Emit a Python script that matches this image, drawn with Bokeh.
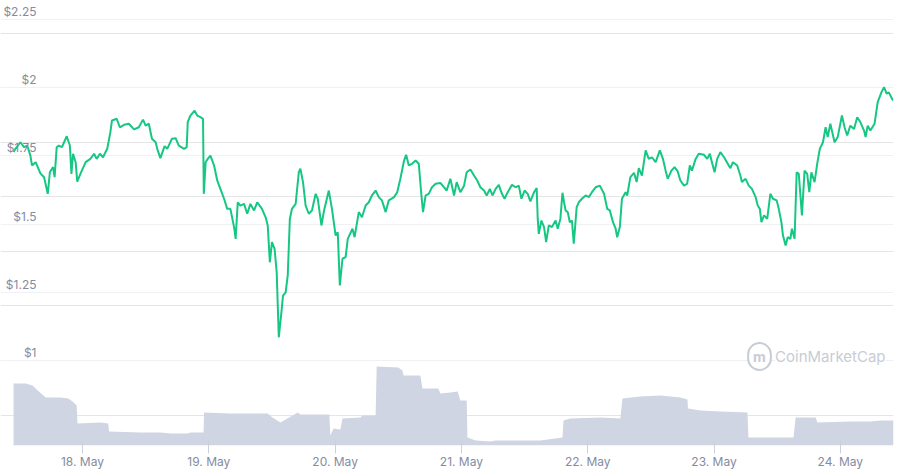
import pandas as pd
from bokeh.plotting import figure
from bokeh.models import Range1d, Grid, FixedTicker, Label, DatetimeTickFormatter, DaysTicker
from bokeh.embed import file_html
from bokeh.resources import INLINE

START = pd.Timestamp("2021-05-17 00:00")

# price: hours since 17 May 00:00, USD
price_hours = [10.9, 11.3, 12.2, 12.9, 13.5, 14.1, 14.4, 15.1, 16.0, 16.7, 17.4, 17.8, 18.4, 18.7, 19.1, 19.5,
               20.1, 21.0, 21.6, 21.9, 22.2, 22.7, 23.0, 23.6, 24.6, 25.5, 26.2, 26.7, 27.3, 27.9, 28.7, 29.3,
               29.6, 30.5, 31.1, 31.9, 32.8, 33.8, 34.7, 35.5, 36.0, 36.6, 37.2, 37.9, 38.2, 38.8, 39.6, 40.1,
               41.0, 41.7, 42.3, 43.3, 43.8, 44.0, 44.5, 45.3, 45.8, 46.4, 46.9, 47.05, 47.4, 47.8, 48.3, 49.0,
               49.6, 50.2, 50.9, 51.5, 52.1, 52.8, 53.1, 53.5, 54.0, 54.7, 55.3, 55.9, 56.6, 57.2, 58.1, 58.8,
               59.2, 59.6, 60.0, 60.5, 60.9, 61.3, 61.8, 62.1, 62.6, 63.0, 63.4, 63.8, 64.5, 65.1, 65.4, 65.9,
               66.4, 67.0, 67.6, 68.3, 68.7, 69.4, 69.9, 70.8, 71.4, 72.1, 72.5, 72.9, 73.4, 74.0, 74.4, 75.3,
               75.7, 76.5, 77.1, 77.8, 78.4, 79.0, 79.7, 80.3, 80.9, 81.6, 82.2, 83.2, 83.8, 84.4, 85.1, 85.5,
               86.0, 86.6, 87.3, 87.9, 88.4, 88.7, 89.2, 89.8, 90.4, 91.1, 92.0, 92.7, 93.2, 93.9, 94.6, 95.1,
               95.8, 96.5, 97.0, 97.7, 98.4, 99.0, 99.6, 100.3, 100.8, 101.4, 101.9, 102.5, 103.1, 103.7, 104.2,
               104.8, 105.6, 106.3, 106.9, 107.4, 108.0, 108.6, 109.1, 109.8, 110.3, 110.5, 110.7, 111.2, 111.7,
               112.1, 112.6, 113.2, 113.9, 114.3, 114.8, 115.2, 115.5, 115.8, 116.2, 116.6, 117.0, 117.35, 117.9,
               118.3, 118.9, 119.6, 120.2, 120.8, 121.5, 122.3, 123.1, 123.7, 124.2, 124.8, 125.3, 125.6, 126.1,
               126.5, 127.2, 127.5, 128.1, 128.8, 129.3, 129.7, 130.3, 131.0, 131.6, 132.2, 132.9, 133.7, 134.3,
               134.8, 135.2, 135.9, 136.5, 137.1, 137.6, 138.3, 138.9, 139.4, 139.8, 140.5, 141.1, 142.1, 142.7,
               143.2, 143.6, 144.1, 144.6, 145.2, 145.9, 146.5, 147.1, 147.6, 148.4, 149.0, 149.3, 150.0, 150.6,
               151.2, 151.9, 152.3, 152.7, 153.0, 153.5, 154.1, 154.7, 155.2, 155.9, 156.3, 156.8, 157.1, 157.6,
               158.0, 158.5, 158.8, 159.3, 159.7, 160.1, 160.7, 161.2, 161.7, 162.1, 162.5, 163.1, 163.6, 164.1,
               164.7, 165.2, 165.6, 166.1, 166.9, 167.5, 168.3, 168.8, 169.3, 169.9, 170.6, 171.2, 171.8, 172.5,
               172.8, 173.2, 173.7, 174.5, 175.1, 175.8, 176.3, 176.8, 177.2, 178.0]
price_usd = [1.764, 1.777, 1.800, 1.782, 1.788, 1.751, 1.715, 1.727, 1.686, 1.672, 1.611, 1.690, 1.709, 1.672,
             1.782, 1.788, 1.782, 1.822, 1.788, 1.684, 1.758, 1.727, 1.656, 1.684, 1.727, 1.739, 1.758, 1.739,
             1.758, 1.745, 1.776, 1.837, 1.880, 1.886, 1.855, 1.864, 1.868, 1.847, 1.855, 1.883, 1.861, 1.868,
             1.813, 1.800, 1.776, 1.742, 1.786, 1.776, 1.813, 1.815, 1.788, 1.776, 1.782, 1.874, 1.898, 1.916,
             1.898, 1.892, 1.886, 1.611, 1.727, 1.739, 1.751, 1.715, 1.660, 1.629, 1.593, 1.556, 1.556, 1.489,
             1.446, 1.580, 1.568, 1.574, 1.538, 1.574, 1.550, 1.580, 1.556, 1.525, 1.495, 1.360, 1.434, 1.409,
             1.324, 1.085, 1.177, 1.238, 1.250, 1.312, 1.519, 1.556, 1.574, 1.690, 1.703, 1.654, 1.568, 1.538,
             1.550, 1.611, 1.593, 1.495, 1.550, 1.623, 1.556, 1.458, 1.470, 1.275, 1.373, 1.379, 1.446, 1.483,
             1.452, 1.544, 1.525, 1.568, 1.580, 1.605, 1.623, 1.599, 1.587, 1.544, 1.587, 1.599, 1.617, 1.666,
             1.733, 1.754, 1.715, 1.721, 1.733, 1.721, 1.605, 1.544, 1.605, 1.611, 1.635, 1.648, 1.651, 1.635,
             1.623, 1.666, 1.605, 1.654, 1.617, 1.641, 1.690, 1.700, 1.678, 1.660, 1.635, 1.623, 1.605, 1.629,
             1.605, 1.629, 1.644, 1.611, 1.593, 1.617, 1.644, 1.635, 1.641, 1.593, 1.623, 1.611, 1.583, 1.617,
             1.632, 1.519, 1.464, 1.513, 1.489, 1.434, 1.495, 1.489, 1.513, 1.483, 1.519, 1.615, 1.580, 1.550,
             1.544, 1.507, 1.513, 1.428, 1.562, 1.580, 1.593, 1.605, 1.599, 1.617, 1.635, 1.641, 1.611, 1.556,
             1.550, 1.507, 1.483, 1.452, 1.489, 1.593, 1.617, 1.605, 1.672, 1.688, 1.654, 1.705, 1.678, 1.770,
             1.739, 1.745, 1.727, 1.770, 1.739, 1.696, 1.666, 1.696, 1.709, 1.693, 1.660, 1.641, 1.648, 1.715,
             1.696, 1.739, 1.758, 1.754, 1.739, 1.758, 1.727, 1.690, 1.739, 1.764, 1.745, 1.725, 1.705, 1.727,
             1.715, 1.678, 1.654, 1.666, 1.641, 1.629, 1.599, 1.568, 1.556, 1.507, 1.532, 1.519, 1.611, 1.593,
             1.587, 1.556, 1.507, 1.458, 1.422, 1.452, 1.446, 1.483, 1.446, 1.690, 1.684, 1.532, 1.696, 1.684,
             1.617, 1.690, 1.654, 1.721, 1.776, 1.800, 1.855, 1.819, 1.868, 1.800, 1.819, 1.898, 1.855, 1.825,
             1.861, 1.849, 1.892, 1.874, 1.843, 1.819, 1.861, 1.843, 1.868, 1.947, 1.983, 2.002, 1.978, 1.983,
             1.953]

# volume: hours since 17 May 00:00, millions USD
vol_hours = [10.9, 13.2, 14.5, 15.5, 17.0, 19.8, 21.3, 22.1, 22.9, 23.05, 27.4, 28.9, 29.04, 35.0, 38.8, 40.7,
             44.0, 44.5, 47.0, 47.1, 52.1, 59.2, 60.1, 61.6, 62.6, 64.9, 65.4, 70.9, 71.1, 71.7, 73.0, 73.4,
             76.8, 77.2, 79.7, 79.9, 84.0, 84.8, 85.0, 88.2, 88.6, 91.6, 92.0, 93.9, 95.3, 95.8, 97.0, 97.15,
             98.7, 101.5, 102.5, 111.0, 112.4, 115.2, 115.4, 116.7, 122.4, 126.2, 126.6, 130.0, 133.8, 137.6,
             138.95, 139.05, 141.4, 145.2, 150.35, 150.54, 156.6, 159.1, 159.5, 163.3, 163.65, 169.9, 173.7,
             175.6, 178.1]
vol_musd = [186, 186, 180, 165, 144, 144, 141, 132, 120, 66, 69, 66, 42, 39, 39, 36,
            36, 39, 39, 99, 96, 96, 84, 69, 78, 99, 93, 93, 30, 51, 48, 81,
            84, 90, 90, 237, 234, 225, 210, 210, 171, 171, 156, 159, 162, 135, 135, 24,
            15, 12, 15, 15, 18, 24, 75, 81, 84, 81, 141, 147, 150, 144,
            138, 111, 105, 102, 99, 24, 24, 24, 84, 84, 69, 72, 72,
            75, 75]

price_ticks = [1.0, 1.25, 1.5, 1.75, 2.0, 2.25]
price_tick_labels = ["$1", "$1.25", "$1.5", "$1.75", "$2", "$2.25"]

pt = START + pd.to_timedelta(price_hours, unit="h")
vt = START + pd.to_timedelta(vol_hours, unit="h")

GREEN = "#16c784"
GRAY_TXT = "#858ca2"
FONT = "Inter"

p = figure(width=905, height=474, x_axis_type="datetime", y_axis_location=None,
           x_range=Range1d(START + pd.Timedelta(hours=8.42), START + pd.Timedelta(hours=178.1)),
           y_range=Range1d(0.6884, 2.3197),
           output_backend="svg", toolbar_location=None,
           min_border_left=0, min_border_right=12, min_border_top=0, min_border_bottom=29)
p.outline_line_color = None
p.background_fill_color = "white"
p.border_fill_color = "white"
p.xgrid.visible = False

p.extra_y_ranges = {"vol": Range1d(0, 1335)}

grid = Grid(dimension=1, ticker=FixedTicker(ticks=price_ticks),
            grid_line_color="#eff1f4", grid_line_width=1)
p.add_layout(grid)

p.varea(x=vt, y1=0, y2=vol_musd, y_range_name="vol", fill_color="#cfd5e2", fill_alpha=1.0)
p.line(pt, price_usd, line_color=GREEN, line_width=2)

for v, txt in zip(price_ticks, price_tick_labels):
    p.add_layout(Label(x=36, x_units="screen", y=v, y_units="data", text=txt,
                       text_align="right", text_baseline="alphabetic", y_offset=8,
                       text_font=FONT, text_font_size="12px", text_color=GRAY_TXT))

# watermark
p.add_layout(Label(x=885, y=89, x_units="screen", y_units="screen", text="CoinMarketCap",
                   text_align="right", text_baseline="middle", text_font=FONT,
                   text_font_size="15px", text_font_style="normal", text_color="#c8ccd5",
                   background_fill_color="white"))
p.add_layout(Label(x=759, y=89, x_units="screen", y_units="screen", text="m",
                   text_align="center", text_baseline="middle", text_font=FONT,
                   text_font_size="14px", text_font_style="bold", text_color="#c8ccd5",
                   border_line_color="#c8ccd5", border_line_width=2, border_radius=12,
                   padding=5, background_fill_color="white"))

ax = p.xaxis[0]
ax.ticker = DaysTicker(days=list(range(1, 32)))
ax.formatter = DatetimeTickFormatter(days="%d. %b", months="%d. %b")
ax.axis_line_color = None
ax.major_tick_line_color = "#ccd0d8"
ax.major_tick_out = 8
ax.major_tick_in = 5
ax.minor_tick_line_color = None
ax.major_label_standoff = 0
ax.major_label_text_font = FONT
ax.major_label_text_font_size = "12px"
ax.major_label_text_color = GRAY_TXT

open("out.html", "w").write(file_html(p, INLINE))
